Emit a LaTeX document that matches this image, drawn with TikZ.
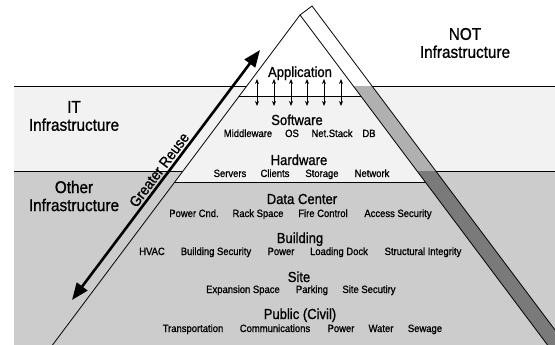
\documentclass[tikz,border=0pt]{standalone}
\usepackage{fontspec}
\setmainfont{Liberation Sans}
\newfontfamily\pyrfont[FakeStretch=0.9,FakeBold=1]{Liberation Sans}
\usetikzlibrary{arrows.meta}
\definecolor{itband}{gray}{0.95}
\definecolor{otherband}{gray}{0.8}
\definecolor{stripmid}{gray}{0.69}
\definecolor{stripdark}{gray}{0.48}

\begin{document}
\begin{tikzpicture}[x=1pt,y=-1pt,
    layer/.style={font=\pyrfont\fontsize{14.5}{14.5}\selectfont,anchor=base,inner sep=0pt},
    item/.style={font=\pyrfont\fontsize{10.5}{10.5}\selectfont,anchor=base,inner sep=0pt},
    region/.style={font=\pyrfont\fontsize{17}{18}\selectfont,align=center,inner sep=0pt}]
    \tikzstyle{edge}=[draw=black,line width=0.8pt]
    \tikzstyle{updown}=[line width=0.9pt,{Stealth[length=5pt,width=4pt]}-{Stealth[length=5pt,width=4pt]}]

    \useasboundingbox (0,0) rectangle (555,345);
    \clip (0,0) rectangle (555,345);

    \coordinate (apex) at (300,15);
    \coordinate (baseL) at (52.5,345);
    \coordinate (baseR) at (547.5,345);
    \coordinate (capT) at (312,6);
    \coordinate (capB) at (566.25,345);

    \fill[itband] (14,86) rectangle (555,171);
    \fill[otherband] (14,171) rectangle (555,345);

    \begin{scope}
        \clip (apex) -- (baseL) -- (baseR) -- cycle;
        \fill[white] (0,0) rectangle (555,96.5);
        \fill[itband] (0,96.5) rectangle (555,182);
        \fill[otherband] (0,182) rectangle (555,345);
    \end{scope}
    \begin{scope}
        \clip (apex) -- (capT) -- (capB) -- (baseR) -- cycle;
        \fill[white] (0,0) rectangle (600,86);
        \fill[stripmid] (0,86) rectangle (600,171);
        \fill[stripdark] (0,171) rectangle (600,345);
    \end{scope}

    \coordinate (itL) at (14,86);
    \coordinate (itP) at (246.75,86);
    \coordinate (itS) at (372,86);
    \coordinate (itR) at (555,86);
    \coordinate (otL) at (14,171);
    \coordinate (otP) at (183,171);
    \coordinate (otS) at (435.75,171);
    \coordinate (otR) at (555,171);
    \coordinate (appL) at (238.9,96.5);
    \coordinate (appR) at (361.1,96.5);
    \coordinate (hwL) at (174.75,182);
    \coordinate (hwR) at (425.25,182);

    \draw[edge] (itL) -- (itP) (itS) -- (itR);
    \draw[edge] (otL) -- (otP) (otS) -- (otR);
    \draw[edge] (appL) -- (appR);
    \draw[edge] (hwL) -- (hwR);
    \draw[edge] (baseL) -- (apex) -- (baseR);
    \draw[edge] (apex) -- (capT) -- (capB);

    \foreach \x [count=\i] in {257,274,291,307,324,341} {
        \coordinate (up\i) at (\x,79);
        \coordinate (dn\i) at (\x,106);
        \draw[updown] (up\i) -- (dn\i);
    }

    \coordinate (reuseLo) at (72,300);
    \coordinate (reuseHi) at (260,50);
    \draw[line width=2.6pt,{Triangle[length=17pt,width=13pt]}-{Triangle[length=17pt,width=13pt]}]
        (reuseLo) -- (reuseHi)
        node (reuse) [midway,above,sloped,inner sep=2pt,font=\pyrfont\fontsize{15}{15}\selectfont] {Greater Reuse};

    \node[region] (notinfra) at (465,43) {NOT\\Infrastructure};
    \node[region] (itinfra) at (74,116) {IT\\Infrastructure};
    \node[region] (otherinfra) at (74,196) {Other\\Infrastructure};

    \node[layer] (app) at (300,77) {Application};
    \node[layer] (sw) at (297,125) {Software};
    \node[layer] (hw) at (299,165) {Hardware};
    \node[layer] (dc) at (302,204) {Data Center};
    \node[layer] (bld) at (300,243) {Building};
    \node[layer] (site) at (299,282) {Site};
    \node[layer] (civil) at (300,319) {Public (Civil)};

    \foreach \x/\t [count=\i] in {248/Middleware,292/OS,332/Net.Stack,369/DB}
        \node[item] (sw\i) at (\x,137) {\t};
    \foreach \x/\t [count=\i] in {230/Servers,275/Clients,322/Storage,372/Network}
        \node[item] (hw\i) at (\x,177) {\t};
    \foreach \x/\t [count=\i] in {194/Power Cnd.,258/Rack Space,323/Fire Control,398/Access Security}
        \node[item] (dc\i) at (\x,217) {\t};
    \foreach \x/\t [count=\i] in {152/HVAC,216/Building Security,281/Power,339/Loading Dock,423/Structural Integrity}
        \node[item] (bld\i) at (\x,255) {\t};
    \foreach \x/\t [count=\i] in {243/Expansion Space,312/Parking,369/Site Secutiry}
        \node[item] (site\i) at (\x,293) {\t};
    \foreach \x/\t [count=\i] in {193/Transportation,275/Communications,341/Power,381/Water,425/Sewage}
        \node[item] (civil\i) at (\x,332) {\t};

\end{tikzpicture}
\end{document}
